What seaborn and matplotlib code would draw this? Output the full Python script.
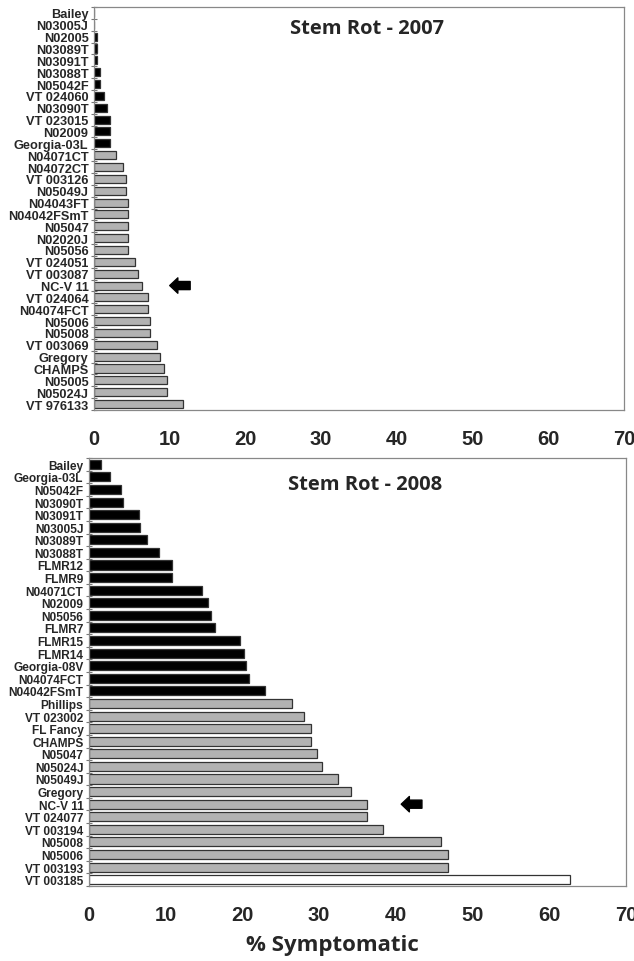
import numpy as np
import pandas as pd
import matplotlib.pyplot as plt
import seaborn as sns
from matplotlib.ticker import FixedLocator

# 2007 data (top to bottom)
lines_2007 = ['Bailey', 'N03005J', 'N02005', 'N03089T', 'N03091T', 'N03088T', 'N05042F',
              'VT 024060', 'N03090T', 'VT 023015', 'N02009', 'Georgia-03L', 'N04071CT',
              'N04072CT', 'VT 003126', 'N05049J', 'N04043FT', 'N04042FSmT', 'N05047',
              'N02020J', 'N05056', 'VT 024051', 'VT 003087', 'NC-V 11', 'VT 024064',
              'N04074FCT', 'N05006', 'N05008', 'VT 003069', 'Gregory', 'CHAMPS', 'N05005',
              'N05024J', 'VT 976133']
pct_2007 = [0, 0, 0.4, 0.4, 0.35, 0.75, 0.75, 1.3, 1.7, 2.1, 2.1, 2.1, 2.9,
            3.8, 4.2, 4.2, 4.5, 4.5, 4.5, 4.5, 4.5, 5.4, 5.8, 6.3, 7.1,
            7.1, 7.4, 7.4, 8.3, 8.7, 9.2, 9.6, 9.6, 11.7]
group_2007 = ['black'] * 12 + ['grey'] * 22

# 2008 data (top to bottom)
lines_2008 = ['Bailey', 'Georgia-03L', 'N05042F', 'N03090T', 'N03091T', 'N03005J', 'N03089T',
              'N03088T', 'FLMR12', 'FLMR9', 'N04071CT', 'N02009', 'N05056', 'FLMR7', 'FLMR15',
              'FLMR14', 'Georgia-08V', 'N04074FCT', 'N04042FSmT', 'Phillips', 'VT 023002',
              'FL Fancy', 'CHAMPS', 'N05047', 'N05024J', 'N05049J', 'Gregory', 'NC-V 11',
              'VT 024077', 'VT 003194', 'N05008', 'N05006', 'VT 003193', 'VT 003185']
pct_2008 = [1.6, 2.7, 4.2, 4.4, 6.5, 6.7, 7.5, 9.1, 10.8, 10.8, 14.7, 15.5, 15.9, 16.4,
            19.7, 20.2, 20.5, 20.9, 23.0, 26.5, 28.0, 28.9, 28.9, 29.7, 30.4, 32.5,
            34.2, 36.3, 36.3, 38.3, 45.9, 46.8, 46.8, 62.7]
group_2008 = ['black'] * 19 + ['grey'] * 14 + ['white']

xticks = [0, 10, 20, 30, 40, 50, 60, 70]
palette = {'black': '#000000', 'grey': '#b2b2b2', 'white': '#ffffff'}

sns.set_style('white')
plt.rcParams['font.family'] = ['Liberation Sans', 'DejaVu Sans']

fig = plt.figure(figsize=(6.34, 9.62), dpi=100)
ax1 = fig.add_axes([94 / 634, 1 - 411 / 962, 530 / 634, 403 / 962])
ax2 = fig.add_axes([89 / 634, 1 - 887 / 962, 537 / 634, 428 / 962])


def draw(ax, names, vals, groups, title, title_y, arrow_x, height, ysize):
    df = pd.DataFrame({'line': names, 'pct': vals, 'grp': groups})
    sns.barplot(data=df, x='pct', y='line', hue='grp', palette=palette, dodge=False,
                legend=False, orient='h', width=height, edgecolor='#333333',
                linewidth=0.9, ax=ax)
    ax.set_xlim(0, 70)
    ax.set_ylim(len(names) - 0.5, -0.5)
    ax.set_xlabel('')
    ax.set_ylabel('')
    ax.set_xticks(xticks)
    ax.set_xticklabels([str(t) for t in xticks], fontsize=14.5, fontweight='bold')
    ax.tick_params(axis='x', direction='inout', length=9, width=0.8, color='#777777', pad=9)
    ax.tick_params(axis='y', which='major', length=0, pad=4)
    ax.yaxis.set_minor_locator(FixedLocator(np.arange(len(names) + 1) - 0.5))
    ax.tick_params(axis='y', which='minor', direction='inout', length=5, width=0.8,
                   color='#777777', left=True)
    for lab in ax.get_yticklabels():
        lab.set_fontsize(ysize)
        lab.set_fontweight('bold')
    for s in ax.spines.values():
        s.set_color('#888888')
        s.set_linewidth(0.9)
    ax.text(0.515, title_y, title, transform=ax.transAxes, ha='center', va='center',
            fontsize=14.5, fontweight='bold', family=['Open Sans', 'DejaVu Sans'])
    # arrow pointing at NC-V 11
    i = names.index('NC-V 11')
    ax.annotate('', xy=(arrow_x, i), xytext=(arrow_x + 2.7, i),
                arrowprops=dict(arrowstyle='simple,head_length=0.45,head_width=0.85,tail_width=0.45',
                                color='black', mutation_scale=13, shrinkA=0, shrinkB=0))


draw(ax1, lines_2007, pct_2007, group_2007, 'Stem Rot - 2007', 0.948, 10.0, 0.68, 9.2)
draw(ax2, lines_2008, pct_2008, group_2008, 'Stem Rot - 2008', 0.94, 40.7, 0.72, 8.6)

ax2.set_xlabel('% Symptomatic', fontsize=16, fontweight='bold',
               family=['Open Sans', 'DejaVu Sans'])
ax2.xaxis.set_label_coords(0.453, -0.112)

fig.savefig('out.png', dpi=100)
